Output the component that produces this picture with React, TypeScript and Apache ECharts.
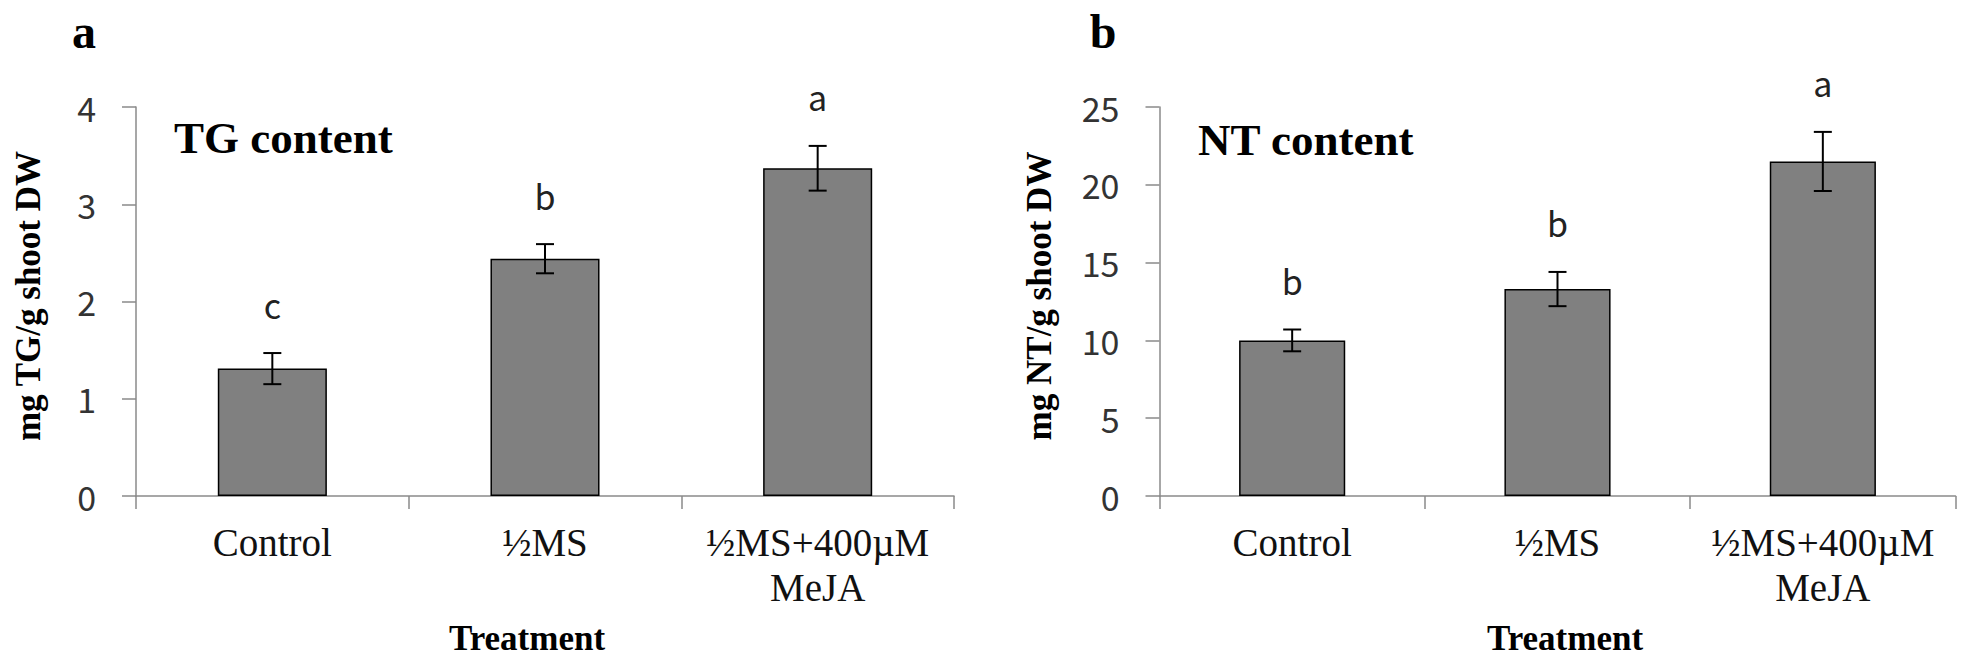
import React, { useEffect, useRef } from "react";
import * as echarts from "echarts";

const categories = ["Control", "½MS", "½MS+400µM\nMeJA"];

const tgMeans = [1.31, 2.44, 3.37];
const tgErrors = [0.16, 0.15, 0.23];
const tgLetters = ["c", "b", "a"];
const tgTicks = { min: 0, max: 4, interval: 1 };

const ntMeans = [10.0, 13.3, 21.5];
const ntErrors = [0.7, 1.1, 1.9];
const ntLetters = ["b", "b", "a"];
const ntTicks = { min: 0, max: 25, interval: 5 };

const SANS = "'Noto Sans CJK KR', 'Open Sans', sans-serif";
const SERIF = "'Liberation Serif', 'DejaVu Serif', serif";
const AXIS_GRAY = "#8a8a8a";

function errorRenderer(errors: number[], letters: string[]) {
  return (params: any, api: any) => {
    const x = api.value(0);
    const m = api.value(1);
    const e = errors[params.dataIndex];
    const top = api.coord([x, m + e]);
    const bot = api.coord([x, m - e]);
    const half = 9;
    const ls = { stroke: "#000", lineWidth: 2 };
    return {
      type: "group",
      children: [
        { type: "line", shape: { x1: top[0], y1: top[1], x2: bot[0], y2: bot[1] }, style: ls },
        { type: "line", shape: { x1: top[0] - half, y1: top[1], x2: top[0] + half, y2: top[1] }, style: ls },
        { type: "line", shape: { x1: bot[0] - half, y1: bot[1], x2: bot[0] + half, y2: bot[1] }, style: ls },
        {
          type: "text",
          x: top[0],
          y: top[1] - 49,
          style: {
            text: letters[params.dataIndex],
            fontSize: 34,
            fontFamily: SANS,
            fill: "#222",
            align: "center",
            verticalAlign: "middle",
          },
        },
      ],
    };
  };
}

function xAxisFor(gridIndex: number) {
  return {
    type: "category",
    gridIndex,
    data: categories,
    axisLine: { show: true, lineStyle: { color: AXIS_GRAY, width: 1.5 } },
    axisTick: { show: true, length: 13, alignWithLabel: false, lineStyle: { color: AXIS_GRAY, width: 1.5 } },
    axisLabel: {
      interval: 0,
      fontFamily: SERIF,
      fontSize: 39,
      lineHeight: 45,
      color: "#111",
      margin: 24,
    },
    splitLine: { show: false },
  };
}

function yAxisFor(gridIndex: number, t: { min: number; max: number; interval: number }) {
  return {
    type: "value",
    gridIndex,
    min: t.min,
    max: t.max,
    interval: t.interval,
    axisLine: { show: true, lineStyle: { color: AXIS_GRAY, width: 1.5 } },
    axisTick: { show: true, length: 14, lineStyle: { color: AXIS_GRAY, width: 1.5 } },
    axisLabel: { fontFamily: SANS, fontSize: 34, color: "#333", margin: 40 },
    splitLine: { show: false },
  };
}

export default function App() {
  const ref = useRef<HTMLDivElement>(null);
  useEffect(() => {
    if (!ref.current) return;
    const chart = echarts.init(ref.current, null, { renderer: "svg" });
    const boldSerif = (text: string, size: number) => ({
      text,
      fontSize: size,
      fontWeight: "bold",
      fontFamily: SERIF,
      fill: "#000",
    });
    chart.setOption({
      animation: false,
      backgroundColor: "#fff",
      grid: [
        { left: 136, top: 107, width: 818, height: 389 },
        { left: 1159.5, top: 107, width: 796, height: 389 },
      ],
      xAxis: [xAxisFor(0), xAxisFor(1)],
      yAxis: [yAxisFor(0, tgTicks), yAxisFor(1, ntTicks)],
      series: [
        {
          type: "bar",
          xAxisIndex: 0,
          yAxisIndex: 0,
          data: tgMeans,
          barWidth: "40%",
          itemStyle: { color: "#808080", borderColor: "#000", borderWidth: 1.5 },
        },
        {
          type: "custom",
          xAxisIndex: 0,
          yAxisIndex: 0,
          data: tgMeans.map((m, i) => [i, m]),
          renderItem: errorRenderer(tgErrors, tgLetters),
          clip: false,
          z: 5,
        },
        {
          type: "bar",
          xAxisIndex: 1,
          yAxisIndex: 1,
          data: ntMeans,
          barWidth: "40%",
          itemStyle: { color: "#808080", borderColor: "#000", borderWidth: 1.5 },
        },
        {
          type: "custom",
          xAxisIndex: 1,
          yAxisIndex: 1,
          data: ntMeans.map((m, i) => [i, m]),
          renderItem: errorRenderer(ntErrors, ntLetters),
          clip: false,
          z: 5,
        },
      ],
      graphic: [
        { type: "text", x: 84, y: 31, style: { ...boldSerif("a", 48), align: "center", verticalAlign: "middle" } },
        { type: "text", x: 1103, y: 31, style: { ...boldSerif("b", 48), align: "center", verticalAlign: "middle" } },
        { type: "text", x: 174, y: 138, style: { ...boldSerif("TG content", 45), align: "left", verticalAlign: "middle" } },
        { type: "text", x: 1198, y: 140, style: { ...boldSerif("NT content", 45), align: "left", verticalAlign: "middle" } },
        {
          type: "text",
          x: 28,
          y: 296,
          rotation: Math.PI / 2,
          style: { ...boldSerif("mg TG/g shoot DW", 35), align: "center", verticalAlign: "middle" },
        },
        {
          type: "text",
          x: 1039,
          y: 296,
          rotation: Math.PI / 2,
          style: { ...boldSerif("mg NT/g shoot DW", 35), align: "center", verticalAlign: "middle" },
        },
        { type: "text", x: 527, y: 638, style: { ...boldSerif("Treatment", 35), align: "center", verticalAlign: "middle" } },
        { type: "text", x: 1565, y: 638, style: { ...boldSerif("Treatment", 35), align: "center", verticalAlign: "middle" } },
      ],
    });
    return () => chart.dispose();
  }, []);
  return (
    <div
      ref={ref}
      style={{ position: "fixed", left: 0, top: 0, width: 1961, height: 663, background: "#fff" }}
    />
  );
}
